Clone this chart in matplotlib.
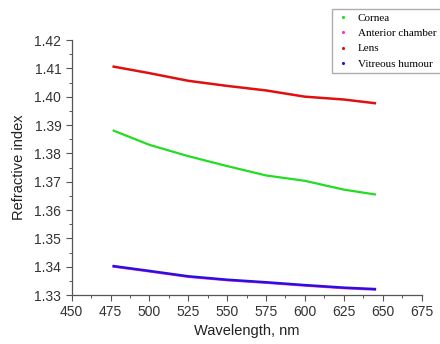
import matplotlib
matplotlib.use("Agg")
import matplotlib.pyplot as plt
from matplotlib.ticker import MultipleLocator

# Refractive index of eye media vs wavelength
wavelength = [477, 500, 525, 550, 575, 600, 625, 645]
cornea = [1.3880, 1.3830, 1.3790, 1.3755, 1.3722, 1.3703, 1.3672, 1.3655]
anterior = [1.3400, 1.3383, 1.3364, 1.3352, 1.3343, 1.3333, 1.3324, 1.3319]
lens = [1.4106, 1.4083, 1.4056, 1.4038, 1.4022, 1.4000, 1.3990, 1.3977]
vitreous = [1.3402, 1.3385, 1.3366, 1.3354, 1.3345, 1.3335, 1.3326, 1.3321]

plt.rcParams['font.family'] = ['Liberation Sans', 'DejaVu Sans']

fig = plt.figure(figsize=(4.4, 3.44), dpi=100)
ax = fig.add_axes([0.163, 0.1424, 0.795, 0.7413])

ax.plot(wavelength, cornea, color='#22dd22', lw=1.6, label='Cornea')
ax.plot(wavelength, anterior, color='#ff33cc', lw=1.6, label='Anterior chamber')
ax.plot(wavelength, lens, color='#e01010', lw=1.8, label='Lens')
ax.plot(wavelength, vitreous, color='#2a10e0', lw=1.8, label='Vitreous humour')

ax.set_xlim(450, 675)
ax.set_ylim(1.33, 1.42)
ax.xaxis.set_major_locator(MultipleLocator(25))
ax.xaxis.set_minor_locator(MultipleLocator(12.5))
ax.yaxis.set_major_locator(MultipleLocator(0.01))
ax.yaxis.set_minor_locator(MultipleLocator(0.005))
ax.yaxis.set_major_formatter(plt.FormatStrFormatter('%.2f'))

for s in ['top', 'right']:
    ax.spines[s].set_visible(False)
for s in ['left', 'bottom']:
    ax.spines[s].set_color('#555555')
    ax.spines[s].set_linewidth(0.9)
ax.tick_params(which='major', direction='out', length=4, width=0.8,
               colors='#555555', labelcolor='#333333', labelsize=10)
ax.tick_params(which='minor', direction='out', length=2, width=0.7, colors='#555555')

ax.set_xlabel('Wavelength, nm', fontsize=10.5, color='#222222', labelpad=3)
ax.set_ylabel('Refractive index', fontsize=10.5, color='#222222', labelpad=6)

# legend with tiny dot markers in the top right corner
handles = [plt.Line2D([], [], ls='none', marker='.', ms=2.5, color=c)
           for c in ['#22dd22', '#ff33cc', '#e01010', '#2a10e0']]
labels = ['Cornea', 'Anterior chamber', 'Lens', 'Vitreous humour']
fig.legend(handles, labels, loc='upper left', bbox_to_anchor=(0.755, 0.975),
           prop={'family': 'Liberation Serif', 'size': 8}, frameon=True,
           fancybox=False, edgecolor='#999999', borderpad=0.4,
           labelspacing=0.5, handlelength=1.2, handletextpad=0.7,
           borderaxespad=0)

fig.savefig('out.png', dpi=100)
